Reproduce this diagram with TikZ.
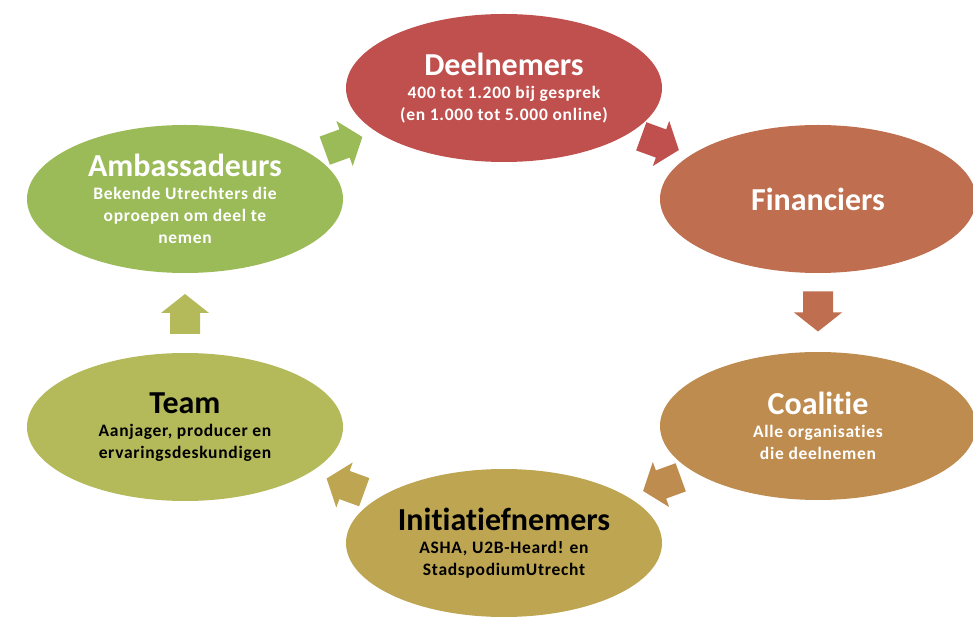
\documentclass[tikz,border=0pt]{standalone}
\usepackage{fontspec}
\setmainfont{Carlito}[Ligatures=CommonOff]
\newfontfamily\spacedfamily{Carlito}[Ligatures=CommonOff, LetterSpace=4]
\usetikzlibrary{shapes.geometric,calc}

\definecolor{deelred}{HTML}{C0504D}
\definecolor{finorange}{HTML}{BF6F4F}
\definecolor{coalbrown}{HTML}{BF8C50}
\definecolor{initolive}{HTML}{BDA552}
\definecolor{teamgreen}{HTML}{B4B95A}
\definecolor{ambgreen}{HTML}{9BBB59}

\newcommand{\titlefont}{\normalfont\bfseries\fontsize{32}{35}\selectfont}
\newcommand{\subfont}{\spacedfamily\bfseries\fontsize{17.5}{22}\selectfont}

\begin{document}
\begin{tikzpicture}[x=1pt,y=1pt]

\tikzstyle{stage} = [ellipse, draw=none, minimum width=316pt, minimum height=148pt,
    inner sep=0pt, align=center, font=\subfont, text=white]
\tikzstyle{dark} = [text=black]
\tikzset{pics/cyclearrow/.style={code={
    \fill (-21,-15) -- (0,-15) -- (0,-24) -- (19,0) -- (0,24) -- (0,15) -- (-21,15) -- cycle;
}}}

\useasboundingbox (0,0) rectangle (973,621);

\node [stage, fill=deelred] (deel) at (504,533)
    {{\titlefont Deelnemers}\\[1pt] 400 tot 1.200 bij gesprek\\ (en 1.000 tot 5.000 online)};
\node [stage, fill=finorange] (fin) at (818,422) {\titlefont Financiers};
\node [stage, fill=coalbrown] (coal) at (818,195)
    {{\titlefont Coalitie}\\[1pt] Alle organisaties\\ die deelnemen};
\node [stage, dark, fill=initolive] (init) at (504,78)
    {{\titlefont Initiatiefnemers}\\[1pt] ASHA, U2B-Heard! en\\ StadspodiumUtrecht};
\node [stage, dark, fill=teamgreen] (team) at (185,194)
    {{\titlefont Team}\\[1pt] Aanjager, producer en\\ ervaringsdeskundigen};
\node [stage, fill=ambgreen] (amb) at (185,422)
    {{\titlefont Ambassadeurs}\\[1pt] Bekende Utrechters die\\ oproepen om deel te\\ nemen};

% block arrows halfway between the stages
\pic [fill=ambgreen, rotate=20] at ($(amb)!0.5!(deel)$) {cyclearrow};
\pic [fill=deelred, rotate=-20] at ($(deel)!0.5!(fin)$) {cyclearrow};
\pic [fill=finorange, rotate=-90] at ($(fin)!0.5!(coal)$) {cyclearrow};
\pic [fill=coalbrown, rotate=200] at ($(coal)!0.5!(init)$) {cyclearrow};
\pic [fill=initolive, rotate=160] at ($(init)!0.5!(team)$) {cyclearrow};
\pic [fill=teamgreen, rotate=90] at ($(team)!0.5!(amb)$) {cyclearrow};
\end{tikzpicture}
\end{document}
